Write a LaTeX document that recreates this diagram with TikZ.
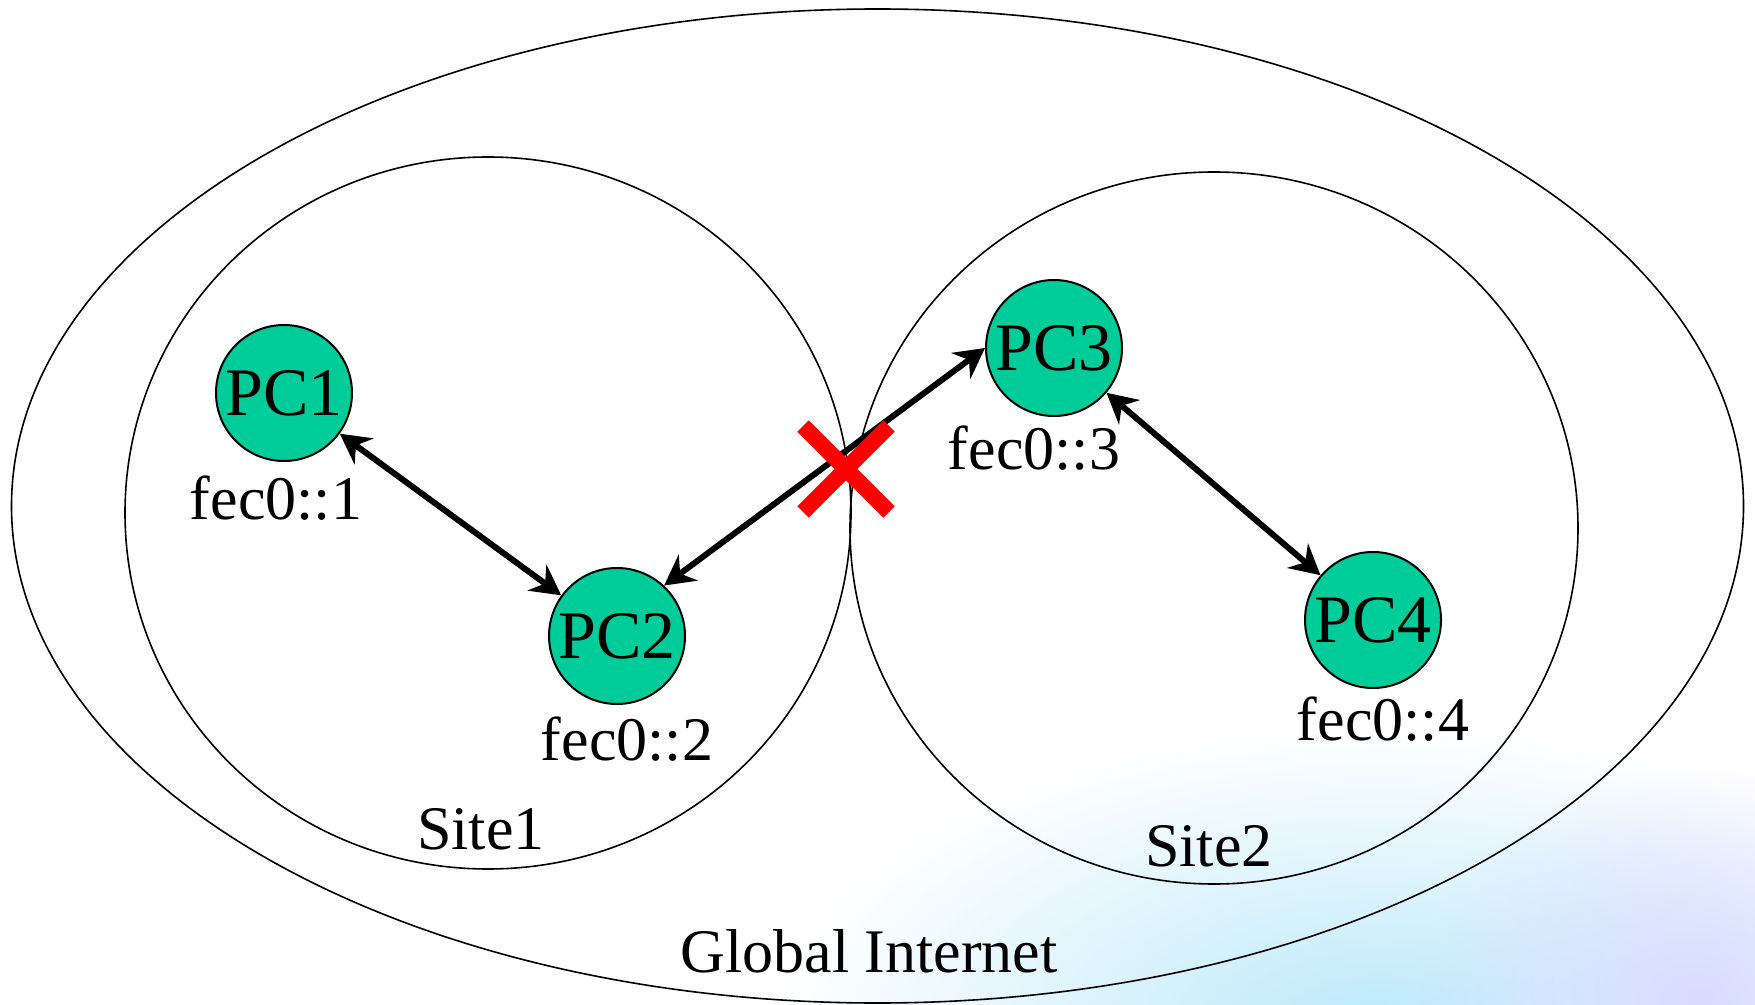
\documentclass[tikz,border=0pt]{standalone}
\usepackage{fontspec}
\setmainfont{Liberation Serif}
\usetikzlibrary{arrows.meta,fadings}
\definecolor{pcgreen}{RGB}{0,204,153}
\tikzfading[name=softspot, inner color=transparent!10, outer color=transparent!100]
\begin{document}
\begin{tikzpicture}[x=0.5pt,y=-0.5pt,
  zone/.style={draw=black, line width=0.8pt},
  pc/.style={circle, draw=black, line width=1pt, fill=pcgreen,
    minimum size=68pt, inner sep=0pt, font=\fontsize{34}{40}\selectfont},
  addr/.style={inner sep=0pt, font=\fontsize{31}{36}\selectfont},
  zonelabel/.style={inner sep=0pt, font=\fontsize{31}{36}\selectfont},
  link/.style={line width=3pt,
    {Stealth[length=15pt,width=16pt,inset=5pt]}-{Stealth[length=15pt,width=16pt,inset=5pt]}},
  cut/.style={draw=red, line width=8pt}
]
\useasboundingbox (0,0) rectangle (1755,1005);

% soft tint in the lower right corner
\fill[cyan!30, path fading=softspot] (1380,1030) ellipse [x radius=600, y radius=300];
\fill[blue!15, path fading=softspot] (1700,1000) ellipse [x radius=280, y radius=240];

% address zones
\draw[zone] (877.5,506) ellipse [x radius=866, y radius=497];
\draw[zone] (488,513) ellipse [x radius=363, y radius=356];
\draw[zone] (1214,528) ellipse [x radius=364, y radius=356];

\node[zonelabel] (site1) at (481,829) {Site1};
\node[zonelabel] (site2) at (1209,846) {Site2};
\node[zonelabel] (global) at (869,951) {Global Internet};

% hosts
\node[pc] (pc1) at (284,393) {PC1};
\node[pc] (pc2) at (617,636) {PC2};
\node[pc] (pc3) at (1054,348) {PC3};
\node[pc] (pc4) at (1373,620) {PC4};

\node[addr] (a1) at (276,498) {fec0::1};
\node[addr] (a2) at (627,739) {fec0::2};
\node[addr] (a3) at (1034,448) {fec0::3};
\node[addr] (a4) at (1383,719) {fec0::4};

% links
\draw[link] (pc1) -- (pc2);
\draw[link] (pc2.47) -- (pc3.west);
\draw[link] (pc3) -- (pc4);

% blocked crossing between the sites
\coordinate (cutmark) at (846,469);
\draw[cut] (cutmark) ++(-43,-43) -- ++(86,86);
\draw[cut] (cutmark) ++(43,-43) -- ++(-86,86);
\end{tikzpicture}
\end{document}
